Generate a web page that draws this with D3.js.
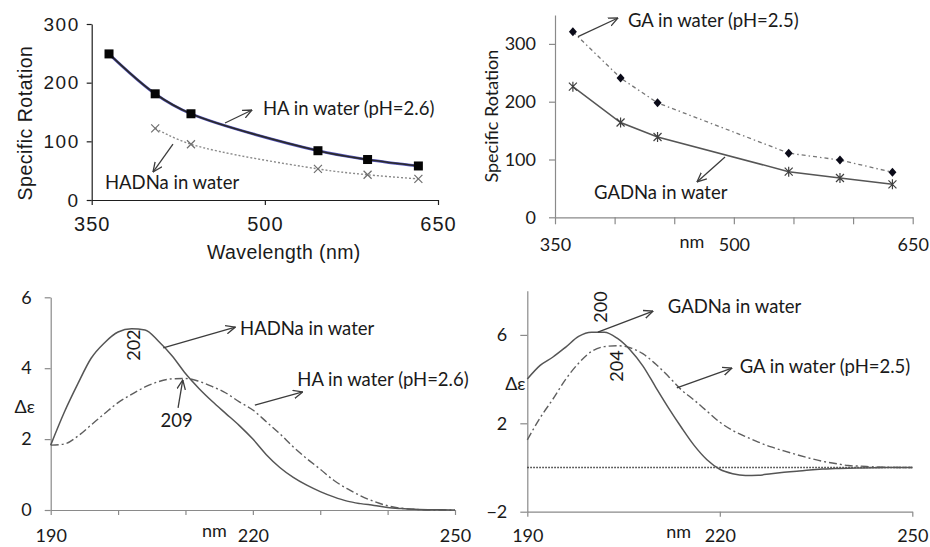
<!DOCTYPE html>
<html>
<head>
<meta charset="utf-8">
<script src="https://cdn.jsdelivr.net/npm/d3@7"></script>
<style>
  body { margin: 0; background: #fff; }
  svg { display: block; }
</style>
</head>
<body>
<svg id="chart" width="930" height="547"></svg>
<script>
// ---- Specific rotation (ORD) data ----
const rotWavelengths = [365, 405, 436, 546, 589, 633];
const haRotation     = [249, 181, 147, 84, 69, 58];
const hadnaWavelengths = [405, 436, 546, 589, 633];
const hadnaRotation    = [122, 95, 53, 43, 36];
const gaRotation     = [321, 241, 198, 111, 99, 78];
const gadnaRotation  = [226, 164, 139, 79, 68, 57];

// ---- CD spectra (Δε vs nm) ----
const cdNm = [190, 192, 194, 196, 198, 200, 202, 204, 206, 208, 210, 212, 214, 216, 218, 220,
              222, 224, 226, 228, 230, 232, 234, 236, 238, 240, 242, 244, 246, 248, 250];
const hadnaCD = [1.83, 2.75, 3.55, 4.28, 4.72, 5.02, 5.11, 5.08, 4.76, 4.35, 3.85, 3.43, 3.06, 2.72, 2.38, 2.00,
                 1.56, 1.20, 0.92, 0.70, 0.52, 0.37, 0.25, 0.18, 0.13, 0.07, 0.04, 0.02, 0.01, 0.01, 0.00];
const haCD    = [1.83, 1.86, 2.08, 2.40, 2.72, 3.03, 3.26, 3.47, 3.62, 3.70, 3.71, 3.63, 3.48, 3.30, 3.05, 2.82,
                 2.49, 2.15, 1.78, 1.45, 1.15, 0.84, 0.60, 0.40, 0.24, 0.12, 0.05, 0.02, 0.00, 0.00, 0.00];
const gadnaCD = [4.00, 4.62, 5.00, 5.45, 5.93, 6.12, 6.12, 5.85, 5.33, 4.60, 3.64, 2.70, 1.82, 1.00, 0.35, -0.08,
                 -0.28, -0.36, -0.35, -0.28, -0.22, -0.17, -0.11, -0.07, -0.05, -0.03, -0.02, -0.01, 0.00, 0.00, 0.00];
const gaCD    = [1.25, 2.25, 3.10, 4.00, 4.72, 5.25, 5.47, 5.51, 5.42, 5.15, 4.68, 4.12, 3.52, 3.05, 2.55, 2.05,
                 1.68, 1.40, 1.15, 0.93, 0.75, 0.58, 0.42, 0.28, 0.18, 0.09, 0.06, 0.03, 0.01, 0.00, 0.00];

// ---- Tick values ----
const rotYTicks   = [0, 100, 200, 300];
const rotXTicksA  = [350, 500, 650];
const rotXTicksB  = [350, 400, 450, 500, 550, 600, 650];
const rotXLabels  = [350, 500, 650];
const cdXTicksC   = [190, 200, 210, 220, 230, 240, 250];
const cdXTicksD   = [190, 220, 250];
const cdXLabels   = [190, 220, 250];
const cdYTicksC   = [0, 2, 4, 6];
const cdYTicksD   = [-2, 2, 6];

const SANS = "Lato, 'Open Sans', sans-serif";
const ARIAL = "'Liberation Sans', Arial, sans-serif";
const TEXT = "#1a1a1a";
const AXIS_GRAY = "#8a8a8a";
const intFmt = d3.format("d");

const svg = d3.select("#chart");

// open arrow head used by the annotation pointers
svg.append("defs").append("marker")
  .attr("id", "arrow")
  .attr("viewBox", "0 0 10 10")
  .attr("refX", 9.5).attr("refY", 5)
  .attr("markerWidth", 10).attr("markerHeight", 10)
  .attr("markerUnits", "userSpaceOnUse")
  .attr("orient", "auto")
  .append("path")
  .attr("d", "M0,0.8 L9.5,5 L0,9.2")
  .attr("fill", "none")
  .attr("stroke", "#3c3c3c")
  .attr("stroke-width", 1.3);

function styleAxis(g, color, font, size, extra) {
  g.select(".domain").attr("stroke", color).attr("stroke-width", 1.2);
  g.selectAll(".tick line").attr("stroke", color).attr("stroke-width", 1.2);
  const t = g.selectAll(".tick text")
    .attr("fill", TEXT)
    .style("font-family", font)
    .style("font-size", size + "px");
  if (extra) extra(t);
}

function labelOnly(list) {
  return d => list.includes(d) ? intFmt(d) : "";
}

function pointer(g, x, y, x1, y1, x2, y2) {
  g.append("line")
    .attr("x1", x(x1)).attr("y1", y(y1))
    .attr("x2", x(x2)).attr("y2", y(y2))
    .attr("stroke", "#3c3c3c").attr("stroke-width", 1.3)
    .attr("marker-end", "url(#arrow)");
}

function note(g, x, y, xv, yv, text, size, font) {
  return g.append("text")
    .attr("x", x(xv)).attr("y", y(yv))
    .attr("fill", TEXT)
    .style("font-family", font || SANS)
    .style("font-size", (size || 18.5) + "px")
    .text(text);
}

function rotatedNote(g, x, y, xv, yv, text) {
  g.append("text")
    .attr("transform", `translate(${x(xv)},${y(yv)}) rotate(-90)`)
    .attr("text-anchor", "middle")
    .attr("fill", TEXT)
    .style("font-family", SANS)
    .style("font-size", "18px")
    .text(text);
}

// ================= Panel A: HA / HADNa specific rotation =================
{
  const g = svg.append("g");
  const x = d3.scaleLinear([350, 650], [91.7, 438]);
  const y = d3.scaleLinear([0, 300], [200, 24]);

  g.append("g").attr("transform", `translate(0,${y(0)})`)
    .call(d3.axisBottom(x).tickValues(rotXTicksA).tickFormat(intFmt).tickSize(5).tickSizeOuter(0).tickPadding(12))
    .call(a => styleAxis(a, "#1e1e1e", ARIAL, 20, t => t.attr("letter-spacing", "1px")));
  g.append("g").attr("transform", `translate(${x(350)},0)`)
    .call(d3.axisLeft(y).tickValues(rotYTicks).tickFormat(intFmt).tickSize(5).tickSizeOuter(0).tickPadding(7))
    .call(a => styleAxis(a, "#1e1e1e", ARIAL, 19, t => t.attr("letter-spacing", "1.5px")));

  g.append("text")
    .attr("x", (x(350) + x(650)) / 2 + 19).attr("y", y(0) + 59)
    .attr("text-anchor", "middle").attr("fill", TEXT)
    .style("font-family", ARIAL).style("font-size", "19.5px")
    .attr("letter-spacing", "0.4px")
    .text("Wavelength (nm)");
  g.append("text")
    .attr("transform", `translate(${x(350) - 60},${(y(0) + y(300)) / 2 + 11}) rotate(-90)`)
    .attr("text-anchor", "middle").attr("fill", TEXT)
    .style("font-family", ARIAL).style("font-size", "19.5px")
    .attr("letter-spacing", "0.5px")
    .text("Specific Rotation");

  const smooth = d3.line().x(d => x(d[0])).y(d => y(d[1])).curve(d3.curveCatmullRom.alpha(0.5));
  const ha = rotWavelengths.map((w, i) => [w, haRotation[i]]);
  const hadna = hadnaWavelengths.map((w, i) => [w, hadnaRotation[i]]);

  g.append("path").attr("d", smooth(hadna)).attr("fill", "none")
    .attr("stroke", "#8a8a8a").attr("stroke-width", 1.4).attr("stroke-dasharray", "2,2");
  g.append("path").attr("d", smooth(ha)).attr("fill", "none")
    .attr("stroke", "#5555bb").attr("stroke-width", 2.8);
  g.append("path").attr("d", smooth(ha)).attr("fill", "none")
    .attr("stroke", "#2a2a2a").attr("stroke-width", 1.7);

  g.selectAll("rect.ha").data(ha).join("rect").attr("class", "ha")
    .attr("x", d => x(d[0]) - 4.5).attr("y", d => y(d[1]) - 4.5)
    .attr("width", 9).attr("height", 9).attr("fill", "#050505");
  g.selectAll("path.hadna").data(hadna).join("path").attr("class", "hadna")
    .attr("transform", d => `translate(${x(d[0])},${y(d[1])})`)
    .attr("d", "M-4,-4L4,4M-4,4L4,-4")
    .attr("stroke", "#6e6e6e").attr("stroke-width", 1.2).attr("fill", "none");

  note(g, x, y, 498.4, 144.9, "HA in water (pH=2.6)");
  pointer(g, x, y, 465.5, 131.2, 488.9, 153.4);
  note(g, x, y, 361.5, 17.9, "HADNa in water");
  pointer(g, x, y, 420.4, 95.4, 403.1, 47.7);
}

// ================= Panel B: GA / GADNa specific rotation =================
{
  const g = svg.append("g");
  const x = d3.scaleLinear([350, 650], [555, 912.7]);
  const y = d3.scaleLinear([0, 350], [217.3, 15]);

  g.append("g").attr("transform", `translate(0,${y(0)})`)
    .call(d3.axisBottom(x).tickValues(rotXTicksB).tickFormat(labelOnly(rotXLabels))
      .tickSize(7).tickSizeOuter(0).tickPadding(14))
    .call(a => styleAxis(a, AXIS_GRAY, SANS, 18));
  g.append("g").attr("transform", `translate(${x(350)},0)`)
    .call(d3.axisLeft(y).tickValues(rotYTicks).tickFormat(intFmt).tickSize(6).tickSizeOuter(0).tickPadding(13))
    .call(a => styleAxis(a, AXIS_GRAY, SANS, 18));

  g.append("text")
    .attr("x", x(464.9)).attr("y", y(0) + 31)
    .attr("text-anchor", "middle").attr("fill", TEXT)
    .style("font-family", SANS).style("font-size", "18px")
    .text("nm");
  g.append("text")
    .attr("transform", `translate(${x(350) - 57},${(y(0) + y(350)) / 2}) rotate(-90)`)
    .attr("text-anchor", "middle").attr("fill", TEXT)
    .style("font-family", SANS).style("font-size", "18px")
    .text("Specific Rotation");

  const straight = d3.line().x(d => x(d[0])).y(d => y(d[1]));
  const ga = rotWavelengths.map((w, i) => [w, gaRotation[i]]);
  const gadna = rotWavelengths.map((w, i) => [w, gadnaRotation[i]]);

  g.append("path").attr("d", straight(ga)).attr("fill", "none")
    .attr("stroke", "#777").attr("stroke-width", 1.3).attr("stroke-dasharray", "4,3,1.5,3");
  g.append("path").attr("d", straight(gadna)).attr("fill", "none")
    .attr("stroke", "#555").attr("stroke-width", 1.5);

  g.selectAll("path.ga").data(ga).join("path").attr("class", "ga")
    .attr("transform", d => `translate(${x(d[0])},${y(d[1])})`)
    .attr("d", "M0,-4.5L4,0L0,4.5L-4,0Z")
    .attr("fill", "#0a0a18");
  g.selectAll("path.gadna").data(gadna).join("path").attr("class", "gadna")
    .attr("transform", d => `translate(${x(d[0])},${y(d[1])})`)
    .attr("d", "M-4,-4L4,4M-4,4L4,-4M0,-5L0,5")
    .attr("stroke", "#404040").attr("stroke-width", 1.2).attr("fill", "none");

  note(g, x, y, 411.2, 329.2, "GA in water (pH=2.5)");
  pointer(g, x, y, 369.3, 312.5, 402.8, 344.8);
  note(g, x, y, 382.7, 31.7, "GADNa in water");
  pointer(g, x, y, 492.6, 104.3, 469.1, 61.1);
}

// ================= Panel C: HADNa / HA CD spectra =================
{
  const g = svg.append("g");
  const x = d3.scaleLinear([190, 250], [50.7, 455]);
  const y = d3.scaleLinear([0, 6], [510, 297.3]);

  g.append("g").attr("transform", `translate(0,${y(0)})`)
    .call(d3.axisBottom(x).tickValues(cdXTicksC).tickFormat(labelOnly(cdXLabels))
      .tickSize(5).tickSizeOuter(0).tickPadding(14))
    .call(a => styleAxis(a, AXIS_GRAY, SANS, 18));
  g.append("g").attr("transform", `translate(${x(190)},0)`)
    .call(d3.axisLeft(y).tickValues(cdYTicksC).tickFormat(intFmt).tickSize(6).tickSizeOuter(0).tickPadding(13))
    .call(a => styleAxis(a, AXIS_GRAY, SANS, 18));

  g.append("text")
    .attr("x", x(214.3)).attr("y", y(0) + 27)
    .attr("text-anchor", "middle").attr("fill", TEXT)
    .style("font-family", SANS).style("font-size", "18px")
    .text("nm");
  g.append("text")
    .attr("x", x(190) - 26).attr("y", y(2.75))
    .attr("text-anchor", "middle").attr("fill", TEXT)
    .style("font-family", SANS).style("font-size", "18px")
    .text("Δε");

  const line = d3.line().x(d => x(d[0])).y(d => y(d[1])).curve(d3.curveMonotoneX);
  const hadna = cdNm.map((n, i) => [n, hadnaCD[i]]);
  const ha = cdNm.map((n, i) => [n, haCD[i]]);

  g.append("path").attr("d", line(ha)).attr("fill", "none")
    .attr("stroke", "#5e5e5e").attr("stroke-width", 1.4).attr("stroke-dasharray", "8,3,2,3");
  g.append("path").attr("d", line(hadna)).attr("fill", "none")
    .attr("stroke", "#555").attr("stroke-width", 1.5);

  note(g, x, y, 218.1, 4.94, "HADNa in water");
  pointer(g, x, y, 206.7, 4.57, 217.4, 5.16);
  note(g, x, y, 226.6, 3.50, "HA in water (pH=2.6)");
  pointer(g, x, y, 220.3, 2.96, 227.4, 3.33);
  note(g, x, y, 208.7, 2.34, "209").attr("text-anchor", "middle");
  pointer(g, x, y, 208.9, 2.88, 209.6, 3.67);
  rotatedNote(g, x, y, 203.2, 4.65, "202");
}

// ================= Panel D: GADNa / GA CD spectra =================
{
  const g = svg.append("g");
  const x = d3.scaleLinear([190, 250], [527.3, 912.3]);
  const y = d3.scaleLinear([-2, 8], [511.7, 290.7]);

  g.append("g").attr("transform", `translate(0,${y(-2)})`)
    .call(d3.axisBottom(x).tickValues(cdXTicksD).tickFormat(labelOnly(cdXLabels))
      .tickSize(5).tickSizeOuter(0).tickPadding(12.5))
    .call(a => styleAxis(a, AXIS_GRAY, SANS, 18));
  g.append("g").attr("transform", `translate(${x(190)},0)`)
    .call(d3.axisLeft(y).tickValues(cdYTicksD).tickFormat(intFmt).tickSize(7).tickSizeOuter(0).tickPadding(13))
    .call(a => styleAxis(a, AXIS_GRAY, SANS, 18));

  g.append("text")
    .attr("x", x(213.6)).attr("y", y(-2) + 26)
    .attr("text-anchor", "middle").attr("fill", TEXT)
    .style("font-family", SANS).style("font-size", "18px")
    .text("nm");
  g.append("text")
    .attr("x", x(190) - 12).attr("y", y(3.5))
    .attr("text-anchor", "middle").attr("fill", TEXT)
    .style("font-family", SANS).style("font-size", "18px")
    .text("Δε");

  // zero reference
  g.append("line")
    .attr("x1", x(190)).attr("x2", x(250))
    .attr("y1", y(0)).attr("y2", y(0))
    .attr("stroke", "#333").attr("stroke-width", 1.3).attr("stroke-dasharray", "1.5,1.5");

  const line = d3.line().x(d => x(d[0])).y(d => y(d[1])).curve(d3.curveMonotoneX);
  const gadna = cdNm.map((n, i) => [n, gadnaCD[i]]);
  const ga = cdNm.map((n, i) => [n, gaCD[i]]);

  g.append("path").attr("d", line(ga)).attr("fill", "none")
    .attr("stroke", "#5e5e5e").attr("stroke-width", 1.4).attr("stroke-dasharray", "8,3,2,3");
  g.append("path").attr("d", line(gadna)).attr("fill", "none")
    .attr("stroke", "#555").attr("stroke-width", 1.5);

  note(g, x, y, 211.9, 6.99, "GADNa in water");
  pointer(g, x, y, 201.0, 6.13, 209.6, 7.08);
  note(g, x, y, 223.1, 4.28, "GA in water (pH=2.5)");
  pointer(g, x, y, 213.3, 3.60, 221.9, 4.50);
  rotatedNote(g, x, y, 202.4, 7.26, "200");
  rotatedNote(g, x, y, 204.9, 4.59, "204");
}
</script>
</body>
</html>
